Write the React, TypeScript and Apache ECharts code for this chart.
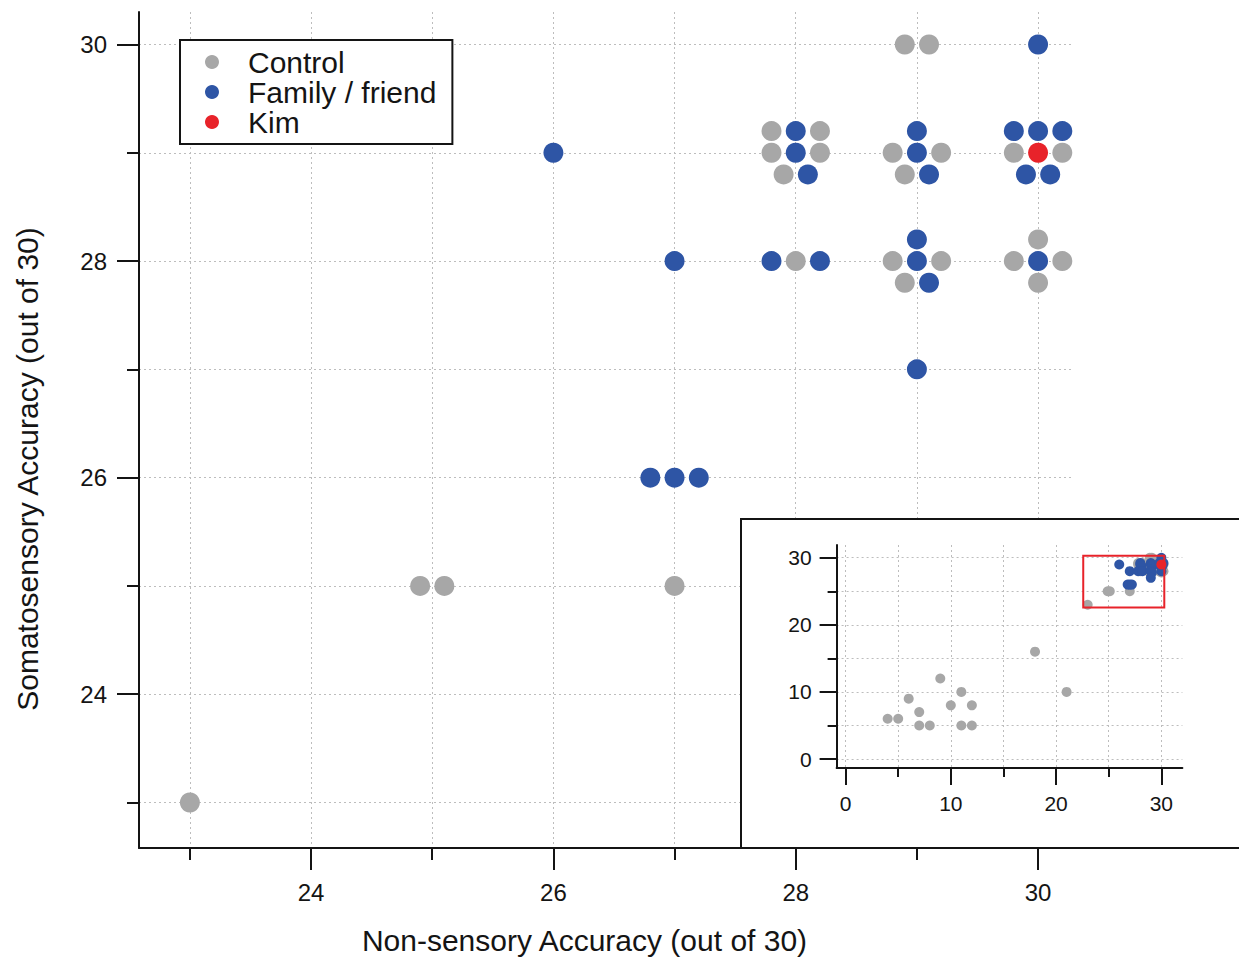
import React, { useEffect, useRef } from "react";
import * as echarts from "echarts";

// ---- Data (jittered positions as plotted) ----
const controlScores: [number, number][] = [
  [23, 23],
  [24.9, 25], [25.1, 25],
  [27, 25],
  [27.8, 29.2], [28.2, 29.2], [27.8, 29], [28.2, 29], [27.9, 28.8],
  [28, 28],
  [28.9, 30], [29.1, 30],
  [28.8, 29], [29.2, 29], [28.9, 28.8],
  [28.8, 28], [29.2, 28], [28.9, 27.8],
  [29.8, 29], [30.2, 29],
  [30, 28.2], [29.8, 28], [30.2, 28], [30, 27.8],
];

const familyScores: [number, number][] = [
  [26, 29],
  [27, 28],
  [26.8, 26], [27, 26], [27.2, 26],
  [28, 29.2], [28, 29], [28.1, 28.8],
  [27.8, 28], [28.2, 28],
  [29, 29.2], [29, 29], [29.1, 28.8],
  [29, 28.2], [29, 28], [29.1, 27.8],
  [29, 27],
  [30, 30],
  [29.8, 29.2], [30, 29.2], [30.2, 29.2], [29.9, 28.8], [30.1, 28.8],
  [30, 28],
];

const kimScores: [number, number][] = [[30, 29]];

// Controls visible only in the full-range inset
const lowControlScores: [number, number][] = [
  [4, 6], [5, 6], [6, 9], [7, 7], [7, 5], [8, 5], [9, 12], [10, 8],
  [11, 10], [11, 5], [12, 8], [12, 5], [18, 16], [21, 10],
];

const mainXLabels = [24, 26, 28, 30];
const mainYLabels = [24, 26, 28, 30];
const insetLabels = [0, 10, 20, 30];

const mainXRange = [22.58, 30.28];
const mainYRange = [22.58, 30.3];
const insetXRange = [-0.85, 32];
const insetYRange = [-1.34, 31.9];

const GRAY = "#a7a7a7";
const BLUE = "#2e55a5";
const RED = "#e8232a";
const INK = "#141414";
const FONT = "'Liberation Sans', Arial, Helvetica, sans-serif";

const gridLine = { show: true, lineStyle: { color: "#bdbdbd", width: 1, type: [2, 3] as any } };

function mainAxis(range: number[], labels: number[], extra: any) {
  return {
    type: "value",
    min: range[0],
    max: range[1],
    minInterval: 2,
    maxInterval: 2,
    axisLine: { show: true, onZero: false, lineStyle: { color: INK, width: 2 } },
    axisTick: { show: true, inside: false, length: 22, customValues: labels, lineStyle: { color: INK, width: 2 } },
    minorTick: { show: true, splitNumber: 2, length: 12, lineStyle: { color: INK, width: 2 } },
    axisLabel: { show: true, customValues: labels, fontSize: 24, color: INK, fontFamily: FONT, margin: 32 },
    splitLine: gridLine,
    minorSplitLine: gridLine,
    z: 0,
    ...extra,
  };
}

function insetAxis(range: number[], gridIndex: number, extra: any) {
  return {
    type: "value",
    gridIndex,
    min: range[0],
    max: range[1],
    minInterval: 10,
    maxInterval: 10,
    axisLine: { show: true, onZero: false, lineStyle: { color: INK, width: 2 } },
    axisTick: { show: true, inside: false, length: 17, customValues: insetLabels, lineStyle: { color: INK, width: 2 } },
    minorTick: { show: true, splitNumber: 2, length: 9, lineStyle: { color: INK, width: 2 } },
    axisLabel: { show: true, customValues: insetLabels, fontSize: 21, color: INK, fontFamily: FONT, margin: 25 },
    splitLine: gridLine,
    minorSplitLine: gridLine,
    z: 6,
    ...extra,
  };
}

export default function App() {
  const ref = useRef<HTMLDivElement>(null);

  useEffect(() => {
    if (!ref.current) return;
    const chart = echarts.init(ref.current, undefined, { renderer: "svg" });
    chart.setOption({
      animation: false,
      backgroundColor: "#ffffff",
      textStyle: { fontFamily: FONT },
      legend: {
        data: ["Control", "Family / friend", "Kim"],
        orient: "vertical",
        left: 180,
        top: 40,
        icon: "circle",
        itemWidth: 14,
        itemHeight: 14,
        itemGap: 0,
        padding: [7, 16, 7, 25],
        borderColor: INK,
        borderWidth: 2,
        backgroundColor: "#ffffff",
        selectedMode: false,
        textStyle: { fontSize: 30, lineHeight: 29.5, color: INK, fontFamily: FONT, padding: [0, 0, 0, 24] },
        z: 10,
      },
      grid: [
        { left: 139, top: 12, right: 167, bottom: 112, containLabel: false },
        { left: 836.6, top: 545, right: 56.6, bottom: 192, containLabel: false },
      ],
      xAxis: [
        mainAxis(mainXRange, mainXLabels, {
          gridIndex: 0,
          name: "Non-sensory Accuracy (out of 30)",
          nameLocation: "middle",
          nameGap: 77,
          nameTextStyle: { fontSize: 30, color: INK, fontFamily: FONT, padding: [0, 42, 0, 0] },
        }),
        insetAxis(insetXRange, 1, {}),
      ],
      yAxis: [
        mainAxis(mainYRange, mainYLabels, {
          gridIndex: 0,
          name: "Somatosensory Accuracy (out of 30)",
          nameLocation: "middle",
          nameGap: 97,
          nameTextStyle: { fontSize: 30, color: INK, fontFamily: FONT, padding: [0, 78, 0, 0] },
        }),
        insetAxis(insetYRange, 1, {}),
      ],
      graphic: [
        {
          type: "rect",
          z: 5,
          shape: { x: 741, y: 519, width: 520, height: 329 },
          style: { fill: "#ffffff", stroke: INK, lineWidth: 2 },
          silent: true,
        },
      ],
      series: [
        { name: "Control", type: "scatter", xAxisIndex: 0, yAxisIndex: 0, data: controlScores, symbolSize: 20, itemStyle: { color: GRAY, opacity: 1 }, z: 2 },
        { name: "Family / friend", type: "scatter", xAxisIndex: 0, yAxisIndex: 0, data: familyScores, symbolSize: 20, itemStyle: { color: BLUE, opacity: 1 }, z: 3 },
        { name: "Kim", type: "scatter", xAxisIndex: 0, yAxisIndex: 0, data: kimScores, symbolSize: 20, itemStyle: { color: RED, opacity: 1 }, z: 4 },
        { name: "Control", type: "scatter", xAxisIndex: 1, yAxisIndex: 1, data: [...lowControlScores, ...controlScores], symbolSize: 10, itemStyle: { color: GRAY, opacity: 1 }, z: 7 },
        { name: "Family / friend", type: "scatter", xAxisIndex: 1, yAxisIndex: 1, data: familyScores, symbolSize: 10, itemStyle: { color: BLUE, opacity: 1 }, z: 8 },
        {
          name: "Kim", type: "scatter", xAxisIndex: 1, yAxisIndex: 1, data: kimScores, symbolSize: 10, itemStyle: { color: RED, opacity: 1 }, z: 9,
          markArea: {
            silent: true,
            z: 9,
            itemStyle: { color: "rgba(0,0,0,0)", borderColor: RED, borderWidth: 2 },
            data: [[{ coord: [mainXRange[0], mainYRange[0]] }, { coord: [mainXRange[1], mainYRange[1]] }]],
          },
        },
      ],
    });
    return () => chart.dispose();
  }, []);

  return (
    <div
      ref={ref}
      style={{ position: "fixed", left: 0, top: 0, width: 1239, height: 960, background: "#fff" }}
    />
  );
}
